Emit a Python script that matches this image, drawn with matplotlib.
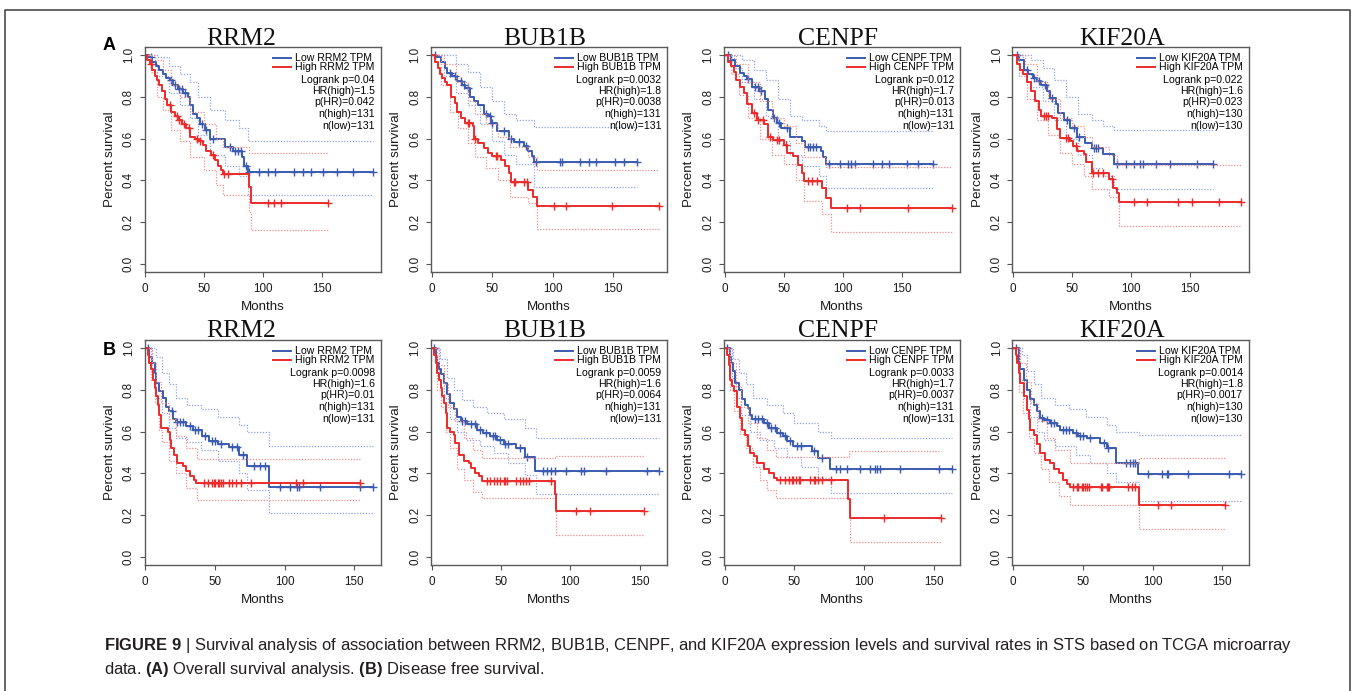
import numpy as np
import matplotlib
matplotlib.use("Agg")
from matplotlib import pyplot as plt
from matplotlib.lines import Line2D

plt.rcParams["font.family"] = ["Liberation Sans", "DejaVu Sans"]
plt.rcParams["mathtext.fontset"] = "custom"
plt.rcParams["mathtext.rm"] = "Liberation Sans"
plt.rcParams["mathtext.bf"] = "Liberation Sans:bold"

GENES = ["RRM2", "BUB1B", "CENPF", "KIF20A"]

# statistics printed in each panel
OS_LOGRANK = ["0.04", "0.0032", "0.012", "0.022"]
OS_HR = ["1.5", "1.8", "1.7", "1.6"]
OS_PHR = ["0.042", "0.0038", "0.013", "0.023"]
OS_N = [131, 131, 131, 130]
DFS_LOGRANK = ["0.0098", "0.0059", "0.0033", "0.0014"]
DFS_HR = ["1.6", "1.6", "1.7", "1.8"]
DFS_PHR = ["0.01", "0.0064", "0.0037", "0.0017"]
DFS_N = [131, 131, 131, 130]

# ---- (A) overall survival: (month, survival) step points, censor months ----
RRM2_OS_LOW = [(0, 1.0), (3, 0.99), (6, 0.97), (9, 0.95), (12, 0.93), (15, 0.91), (18, 0.89),
               (21, 0.88), (24, 0.86), (28, 0.84), (32, 0.82), (36, 0.80), (38, 0.76), (41, 0.72),
               (44, 0.70), (47, 0.67), (51, 0.64), (55, 0.60), (68, 0.56), (75, 0.54), (82, 0.51),
               (84, 0.47), (87, 0.44)]
RRM2_OS_LOW_UP = [(0, 1.0), (10, 0.99), (20, 0.95), (30, 0.91), (38, 0.87), (45, 0.80), (55, 0.74),
                  (68, 0.69), (80, 0.65), (87, 0.59)]
RRM2_OS_LOW_DN = [(0, 1.0), (5, 0.96), (10, 0.90), (20, 0.82), (30, 0.76), (38, 0.70), (45, 0.62),
                  (55, 0.52), (68, 0.47), (80, 0.42), (87, 0.33)]
RRM2_OS_LOW_CENS = [5, 22, 25, 29, 31, 34, 48, 52, 58, 72, 76, 79, 81, 86, 88, 97, 104, 110, 126,
                    134, 141, 151, 163, 176, 193]
RRM2_OS_HIGH = [(0, 1.0), (2, 0.98), (4, 0.96), (6, 0.93), (8, 0.90), (10, 0.88), (12, 0.86),
                (14, 0.83), (17, 0.79), (19, 0.76), (22, 0.73), (25, 0.71), (28, 0.69), (31, 0.67),
                (35, 0.65), (38, 0.61), (42, 0.60), (46, 0.59), (49, 0.57), (52, 0.54), (56, 0.52),
                (59, 0.50), (62, 0.47), (64, 0.45), (66, 0.43), (88, 0.37), (90, 0.29)]
RRM2_OS_HIGH_UP = [(0, 1.0), (8, 0.98), (15, 0.93), (22, 0.86), (30, 0.80), (38, 0.73), (50, 0.67),
                   (60, 0.60), (66, 0.56), (88, 0.53)]
RRM2_OS_HIGH_DN = [(0, 1.0), (5, 0.92), (10, 0.80), (15, 0.74), (22, 0.64), (30, 0.59), (38, 0.51),
                   (50, 0.45), (60, 0.38), (66, 0.33), (88, 0.25), (90, 0.16)]
RRM2_OS_HIGH_CENS = [5, 21, 27, 29, 33, 37, 44, 47, 58, 67, 70, 104, 109, 115, 155]

BUB1B_OS_LOW = [(0, 1.0), (4, 0.99), (8, 0.97), (11, 0.94), (13, 0.915), (17, 0.90), (21, 0.875),
                (25, 0.86), (28, 0.845), (32, 0.80), (35, 0.78), (38, 0.76), (43, 0.72), (47, 0.71),
                (49, 0.675), (54, 0.635), (64, 0.60), (68, 0.585), (76, 0.565), (80, 0.54),
                (83, 0.515), (85, 0.49)]
BUB1B_OS_LOW_UP = [(0, 1.0), (10, 1.0), (20, 0.96), (30, 0.92), (40, 0.85), (50, 0.78), (60, 0.72),
                   (70, 0.69), (85, 0.655)]
BUB1B_OS_LOW_DN = [(0, 1.0), (10, 0.90), (20, 0.82), (30, 0.76), (40, 0.67), (50, 0.59), (60, 0.52),
                   (70, 0.48), (85, 0.37)]
BUB1B_OS_LOW_CENS = [3, 15, 19, 24, 27, 30, 45, 48, 50, 60, 66, 72, 78, 86, 106, 108, 123, 130,
                     136, 152, 159, 170]
BUB1B_OS_HIGH = [(0, 1.0), (3, 0.97), (5, 0.94), (7, 0.91), (9, 0.89), (11, 0.87), (13, 0.86),
                 (16, 0.80), (19, 0.77), (21, 0.73), (24, 0.70), (28, 0.675), (34, 0.66), (35, 0.60),
                 (38, 0.58), (43, 0.555), (47, 0.53), (50, 0.515), (57, 0.50), (61, 0.47),
                 (64, 0.435), (66, 0.39), (80, 0.355), (84, 0.32), (87, 0.275)]
BUB1B_OS_HIGH_UP = [(0, 1.0), (10, 0.96), (20, 0.87), (30, 0.78), (36, 0.72), (45, 0.67),
                    (55, 0.61), (65, 0.56), (80, 0.51), (87, 0.45)]
BUB1B_OS_HIGH_DN = [(0, 1.0), (8, 0.86), (15, 0.73), (22, 0.65), (30, 0.58), (36, 0.51), (45, 0.46),
                    (55, 0.40), (65, 0.32), (80, 0.29), (87, 0.165)]
BUB1B_OS_HIGH_CENS = [30, 31, 36, 53, 54, 68, 69, 76, 79, 101, 111, 149, 188]

CENPF_OS_LOW = [(0, 1.0), (5, 0.98), (9, 0.95), (13, 0.915), (16, 0.90), (19, 0.885), (23, 0.85),
                (30, 0.83), (34, 0.79), (37, 0.74), (41, 0.70), (44, 0.675), (48, 0.65), (55, 0.61),
                (65, 0.59), (68, 0.56), (81, 0.54), (83, 0.51), (86, 0.48)]
CENPF_OS_LOW_UP = [(0, 1.0), (15, 0.98), (25, 0.93), (35, 0.88), (45, 0.79), (55, 0.71), (65, 0.69),
                   (80, 0.66), (86, 0.635)]
CENPF_OS_LOW_DN = [(0, 1.0), (8, 0.94), (15, 0.87), (25, 0.79), (35, 0.71), (45, 0.59), (55, 0.52),
                   (65, 0.47), (80, 0.42), (86, 0.365)]
CENPF_OS_LOW_CENS = [3, 5, 20, 26, 28, 31, 42, 46, 53, 70, 72, 75, 77, 88, 97, 104, 107, 110, 125,
                     133, 139, 154, 163, 176]
CENPF_OS_HIGH = [(0, 1.0), (3, 0.97), (5, 0.95), (8, 0.92), (10, 0.88), (13, 0.85), (16, 0.82),
                 (19, 0.765), (23, 0.725), (27, 0.69), (33, 0.67), (37, 0.61), (41, 0.595),
                 (50, 0.57), (53, 0.53), (58, 0.515), (62, 0.475), (65, 0.435), (67, 0.395),
                 (82, 0.365), (86, 0.315), (90, 0.265)]
CENPF_OS_HIGH_UP = [(0, 1.0), (10, 0.96), (20, 0.87), (30, 0.78), (40, 0.70), (50, 0.66), (60, 0.58),
                    (67, 0.51), (86, 0.465)]
CENPF_OS_HIGH_DN = [(0, 1.0), (5, 0.91), (12, 0.81), (20, 0.70), (30, 0.60), (40, 0.52), (50, 0.48),
                    (60, 0.40), (67, 0.30), (82, 0.24), (90, 0.15)]
CENPF_OS_HIGH_CENS = [25, 28, 32, 38, 44, 46, 52, 70, 74, 78, 103, 114, 155, 192]

KIF20A_OS_LOW = [(0, 1.0), (5, 0.98), (9, 0.93), (13, 0.91), (17, 0.89), (20, 0.875), (24, 0.86),
                 (29, 0.83), (31, 0.795), (36, 0.765), (38, 0.725), (43, 0.69), (48, 0.65),
                 (54, 0.61), (61, 0.58), (67, 0.555), (76, 0.525), (86, 0.48)]
KIF20A_OS_LOW_UP = [(0, 1.0), (15, 0.98), (25, 0.94), (35, 0.88), (45, 0.80), (55, 0.72),
                    (67, 0.69), (76, 0.66), (86, 0.64)]
KIF20A_OS_LOW_DN = [(0, 1.0), (8, 0.91), (15, 0.85), (25, 0.78), (35, 0.69), (45, 0.60), (55, 0.52),
                    (67, 0.46), (76, 0.42), (86, 0.36)]
KIF20A_OS_LOW_CENS = [3, 12, 18, 22, 27, 33, 46, 52, 56, 69, 70, 72, 88, 96, 103, 108, 110, 121,
                      133, 156, 170]
KIF20A_OS_HIGH = [(0, 1.0), (3, 0.96), (6, 0.93), (8, 0.91), (12, 0.87), (15, 0.83), (19, 0.78),
                  (22, 0.74), (24, 0.71), (33, 0.70), (37, 0.645), (40, 0.605), (48, 0.59),
                  (51, 0.565), (54, 0.54), (60, 0.525), (62, 0.49), (67, 0.435), (81, 0.405),
                  (85, 0.365), (88, 0.34), (90, 0.295)]
KIF20A_OS_HIGH_UP = [(0, 1.0), (10, 0.96), (20, 0.87), (30, 0.79), (40, 0.70), (50, 0.66),
                     (60, 0.61), (67, 0.56), (81, 0.52), (88, 0.475)]
KIF20A_OS_HIGH_DN = [(0, 1.0), (5, 0.90), (12, 0.79), (20, 0.69), (30, 0.62), (40, 0.53), (50, 0.48),
                     (60, 0.42), (67, 0.36), (81, 0.32), (90, 0.18)]
KIF20A_OS_HIGH_CENS = [26, 28, 30, 45, 47, 53, 68, 72, 76, 84, 103, 114, 140, 152, 175, 193]

# ---- (B) disease free survival ----
RRM2_DFS_LOW = [(0, 1.0), (3, 0.96), (5, 0.93), (7, 0.88), (8, 0.835), (10, 0.795), (13, 0.76),
                (15, 0.72), (17, 0.70), (20, 0.66), (22, 0.645), (29, 0.625), (34, 0.61), (41, 0.58),
                (46, 0.555), (52, 0.54), (60, 0.525), (67, 0.49), (73, 0.435), (89, 0.335)]
RRM2_DFS_LOW_UP = [(0, 1.0), (8, 0.96), (12, 0.88), (17, 0.83), (22, 0.76), (30, 0.73), (40, 0.71),
                   (52, 0.67), (67, 0.63), (73, 0.60), (89, 0.53)]
RRM2_DFS_LOW_DN = [(0, 1.0), (5, 0.88), (8, 0.76), (12, 0.69), (17, 0.62), (22, 0.57), (30, 0.55),
                   (40, 0.51), (52, 0.46), (67, 0.40), (73, 0.32), (89, 0.21)]
RRM2_DFS_LOW_CENS = [2, 19, 23, 25, 27, 32, 36, 38, 43, 48, 50, 54, 62, 66, 70, 78, 82, 86, 97,
                     104, 109, 110, 125, 154, 163]
RRM2_DFS_HIGH = [(0, 1.0), (2, 0.97), (3, 0.93), (4, 0.90), (5.5, 0.85), (7, 0.81), (8, 0.77),
                 (9, 0.73), (10, 0.68), (11.5, 0.62), (16, 0.60), (17.5, 0.56), (18.5, 0.52),
                 (21, 0.49), (23, 0.45), (27, 0.435), (29, 0.41), (32, 0.385), (35, 0.37),
                 (36.5, 0.355)]
RRM2_DFS_HIGH_UP = [(0, 1.0), (5, 0.93), (8, 0.84), (11, 0.74), (17, 0.66), (22, 0.58), (29, 0.52),
                    (37, 0.47)]
RRM2_DFS_HIGH_DN = [(0, 1.0), (4, 0.85), (7, 0.74), (10, 0.61), (12, 0.55), (17, 0.46), (22, 0.40),
                    (29, 0.33), (37, 0.27)]
RRM2_DFS_HIGH_CENS = [42, 45, 48, 49, 50, 52, 53, 54, 56, 60, 62, 65, 69, 76, 108, 113, 154]

BUB1B_DFS_LOW = [(0, 1.0), (3, 0.96), (4, 0.93), (5, 0.90), (6.5, 0.875), (9, 0.835), (11, 0.78),
                 (13.5, 0.74), (16, 0.71), (18, 0.67), (21, 0.65), (25.5, 0.635), (33, 0.61),
                 (37, 0.595), (42, 0.58), (47, 0.56), (52, 0.54), (61, 0.52), (67, 0.48),
                 (74.5, 0.41)]
BUB1B_DFS_LOW_UP = [(0, 1.0), (6, 0.95), (11, 0.86), (16, 0.80), (22, 0.75), (30, 0.72), (40, 0.69),
                    (52, 0.66), (67, 0.62), (75, 0.57)]
BUB1B_DFS_LOW_DN = [(0, 1.0), (5, 0.85), (9, 0.76), (13, 0.66), (18, 0.60), (25, 0.56), (35, 0.53),
                    (45, 0.50), (55, 0.45), (67, 0.39), (75, 0.30)]
BUB1B_DFS_LOW_CENS = [2, 22, 24, 28, 31, 35, 39, 44, 46, 49, 53, 55, 64, 69, 80, 83, 86, 89, 97,
                      108, 110, 126, 155, 164]
BUB1B_DFS_HIGH = [(0, 1.0), (1.7, 0.97), (3, 0.93), (4, 0.88), (5, 0.85), (6.5, 0.81), (7.6, 0.77),
                  (9, 0.74), (10, 0.69), (11, 0.62), (13.5, 0.60), (16, 0.585), (17, 0.545),
                  (19.5, 0.49), (23, 0.46), (27, 0.45), (28, 0.425), (31.5, 0.40), (34, 0.385),
                  (36, 0.365), (89, 0.30), (90, 0.22)]
BUB1B_DFS_HIGH_UP = [(0, 1.0), (5, 0.92), (9, 0.83), (12, 0.72), (17, 0.65), (23, 0.57), (30, 0.51),
                     (36, 0.475), (89, 0.485)]
BUB1B_DFS_HIGH_DN = [(0, 1.0), (4, 0.80), (7, 0.72), (10, 0.60), (13, 0.52), (18, 0.42), (23, 0.37),
                     (30, 0.31), (36, 0.28), (90, 0.105)]
BUB1B_DFS_HIGH_CENS = [40, 42, 45, 47, 49, 52, 53, 54, 61, 64, 66, 68, 70, 86, 104, 114, 153]

CENPF_DFS_LOW = [(0, 1.0), (3.6, 0.96), (4.5, 0.93), (6, 0.89), (7.6, 0.835), (10, 0.80),
                 (12.4, 0.755), (14.8, 0.73), (17, 0.715), (18, 0.68), (19.5, 0.66), (28, 0.64),
                 (31.5, 0.62), (37.4, 0.595), (42, 0.58), (44.6, 0.555), (49, 0.53), (62.5, 0.505),
                 (67, 0.475), (75.6, 0.42)]
CENPF_DFS_LOW_UP = [(0, 1.0), (6, 0.95), (10, 0.88), (15, 0.83), (20, 0.76), (30, 0.73), (42, 0.69),
                    (50, 0.64), (67, 0.60), (76, 0.57)]
CENPF_DFS_LOW_DN = [(0, 1.0), (5, 0.86), (8, 0.76), (12, 0.68), (18, 0.60), (25, 0.56), (35, 0.52),
                    (45, 0.48), (55, 0.43), (67, 0.38), (76, 0.305)]
CENPF_DFS_LOW_CENS = [2, 22, 24, 27, 30, 33, 36, 40, 43, 47, 52, 55, 64, 70, 80, 83, 87.5, 97, 104,
                      108, 109, 111, 126, 153.6, 163]
CENPF_DFS_HIGH = [(0, 1.0), (1.7, 0.97), (3, 0.92), (4, 0.85), (5.2, 0.82), (6.4, 0.795),
                  (8.8, 0.72), (11, 0.665), (12.4, 0.61), (14.8, 0.585), (17, 0.53), (18, 0.50),
                  (20.7, 0.485), (23, 0.45), (28, 0.42), (31.5, 0.40), (35, 0.38), (37.4, 0.37),
                  (88.7, 0.275), (90, 0.185)]
CENPF_DFS_HIGH_UP = [(0, 1.0), (4, 0.93), (8, 0.82), (12, 0.72), (17, 0.64), (23, 0.57), (30, 0.51),
                     (37, 0.48), (89, 0.505)]
CENPF_DFS_HIGH_DN = [(0, 1.0), (4, 0.80), (7, 0.70), (11, 0.59), (15, 0.52), (20, 0.43), (25, 0.37),
                     (30, 0.32), (37, 0.28), (90, 0.07)]
CENPF_DFS_HIGH_CENS = [40, 43, 46, 48, 49, 51, 53, 54, 61, 64, 65, 67, 70, 76, 114, 155]

KIF20A_DFS_LOW = [(0, 1.0), (4, 0.93), (5.2, 0.90), (7.6, 0.85), (10, 0.80), (12.3, 0.755),
                  (14.7, 0.73), (17, 0.70), (19.5, 0.665), (22, 0.655), (26.6, 0.64), (31.3, 0.625),
                  (33.7, 0.61), (43, 0.595), (46.8, 0.58), (52.7, 0.57), (62, 0.545), (67, 0.52),
                  (74, 0.45), (89.5, 0.395)]
KIF20A_DFS_LOW_UP = [(0, 1.0), (6, 0.97), (10, 0.89), (15, 0.83), (20, 0.76), (30, 0.73), (40, 0.71),
                     (52, 0.67), (67, 0.63), (74, 0.60), (90, 0.585)]
KIF20A_DFS_LOW_DN = [(0, 1.0), (5, 0.85), (8, 0.76), (12, 0.67), (17, 0.60), (22, 0.56), (30, 0.53),
                     (45, 0.49), (55, 0.45), (67, 0.40), (74, 0.36), (90, 0.265)]
KIF20A_DFS_LOW_CENS = [2, 21, 24, 27, 29, 36, 38, 40, 45, 48, 50, 55, 65, 68, 81, 83.5, 86, 87,
                       96.6, 107, 110, 111, 125, 155, 163]
KIF20A_DFS_HIGH = [(0, 1.0), (1.7, 0.97), (2.8, 0.93), (4, 0.88), (5.2, 0.835), (7.6, 0.77),
                   (10, 0.705), (11, 0.66), (12.3, 0.61), (14.7, 0.585), (17, 0.54), (19.5, 0.50),
                   (23, 0.465), (26.6, 0.45), (29, 0.42), (32.5, 0.40), (36, 0.37), (38.5, 0.35),
                   (41, 0.335), (90, 0.25)]
KIF20A_DFS_HIGH_UP = [(0, 1.0), (5, 0.93), (9, 0.84), (13, 0.74), (18, 0.65), (24, 0.57), (30, 0.51),
                      (41, 0.45), (90, 0.475)]
KIF20A_DFS_HIGH_DN = [(0, 1.0), (4, 0.79), (7, 0.69), (11, 0.57), (15, 0.50), (20, 0.42), (26, 0.36),
                      (33, 0.29), (41, 0.25), (90, 0.133)]
KIF20A_DFS_HIGH_CENS = [43, 45.6, 46.8, 49, 50, 51.5, 52.7, 54, 63, 64, 67, 68, 69, 82, 85, 87,
                        103.7, 113, 152]

OS_CURVES = [
    (RRM2_OS_LOW, RRM2_OS_LOW_UP, RRM2_OS_LOW_DN, RRM2_OS_LOW_CENS,
     RRM2_OS_HIGH, RRM2_OS_HIGH_UP, RRM2_OS_HIGH_DN, RRM2_OS_HIGH_CENS),
    (BUB1B_OS_LOW, BUB1B_OS_LOW_UP, BUB1B_OS_LOW_DN, BUB1B_OS_LOW_CENS,
     BUB1B_OS_HIGH, BUB1B_OS_HIGH_UP, BUB1B_OS_HIGH_DN, BUB1B_OS_HIGH_CENS),
    (CENPF_OS_LOW, CENPF_OS_LOW_UP, CENPF_OS_LOW_DN, CENPF_OS_LOW_CENS,
     CENPF_OS_HIGH, CENPF_OS_HIGH_UP, CENPF_OS_HIGH_DN, CENPF_OS_HIGH_CENS),
    (KIF20A_OS_LOW, KIF20A_OS_LOW_UP, KIF20A_OS_LOW_DN, KIF20A_OS_LOW_CENS,
     KIF20A_OS_HIGH, KIF20A_OS_HIGH_UP, KIF20A_OS_HIGH_DN, KIF20A_OS_HIGH_CENS),
]
DFS_CURVES = [
    (RRM2_DFS_LOW, RRM2_DFS_LOW_UP, RRM2_DFS_LOW_DN, RRM2_DFS_LOW_CENS,
     RRM2_DFS_HIGH, RRM2_DFS_HIGH_UP, RRM2_DFS_HIGH_DN, RRM2_DFS_HIGH_CENS),
    (BUB1B_DFS_LOW, BUB1B_DFS_LOW_UP, BUB1B_DFS_LOW_DN, BUB1B_DFS_LOW_CENS,
     BUB1B_DFS_HIGH, BUB1B_DFS_HIGH_UP, BUB1B_DFS_HIGH_DN, BUB1B_DFS_HIGH_CENS),
    (CENPF_DFS_LOW, CENPF_DFS_LOW_UP, CENPF_DFS_LOW_DN, CENPF_DFS_LOW_CENS,
     CENPF_DFS_HIGH, CENPF_DFS_HIGH_UP, CENPF_DFS_HIGH_DN, CENPF_DFS_HIGH_CENS),
    (KIF20A_DFS_LOW, KIF20A_DFS_LOW_UP, KIF20A_DFS_LOW_DN, KIF20A_DFS_LOW_CENS,
     KIF20A_DFS_HIGH, KIF20A_DFS_HIGH_UP, KIF20A_DFS_HIGH_DN, KIF20A_DFS_HIGH_CENS),
]

BLUE = "#3a5bb0"
RED = "#ec2b2b"
BLUE_CI = "#8ea2e6"
RED_CI = "#f28a8a"

W, H = 1354, 691
fig = plt.figure(figsize=(W / 100, H / 100), dpi=100)
fig.patch.set_facecolor("white")

AX_LEFT = [144.5, 431, 724, 1012.5]
AX_TOP = [47, 340]
AX_W, AX_H = 236, 225
TITLE_X = [241.5, 545, 838, 1122.5]
TITLE_Y = [45, 337]
STAT_Y = [0.952, 0.910, 0.852, 0.804, 0.754, 0.702, 0.648]


def fx(x):
    return x / W


def fy(y):
    return 1 - y / H


def step_arrays(points, end):
    t = [p[0] for p in points] + [end]
    s = [p[1] for p in points] + [points[-1][1]]
    return np.array(t), np.array(s)


renderer = fig.canvas.get_renderer()


def draw_group(ax, km, up, dn, cens, color, ci_color):
    end = max(cens)
    for band in (up, dn):
        t, s = step_arrays(band, end)
        ax.step(t, s, where="post", color=ci_color, lw=0.9, ls=(0, (1, 1.3)))
    t, s = step_arrays(km, end)
    ax.step(t, s, where="post", color=color, lw=1.4)
    idx = np.searchsorted(t, cens, side="right") - 1
    ax.plot(cens, s[idx], ls="none", marker="+", ms=6, mew=1.0, color=color)
    return end


def draw_panel(row, col, curves, logrank, hr, phr, n):
    gene = GENES[col]
    ax = fig.add_axes([fx(AX_LEFT[col]), fy(AX_TOP[row] + AX_H), AX_W / W, AX_H / H])
    low_km, low_up, low_dn, low_c, hi_km, hi_up, hi_dn, hi_c = curves
    e1 = draw_group(ax, low_km, low_up, low_dn, low_c, BLUE, BLUE_CI)
    e2 = draw_group(ax, hi_km, hi_up, hi_dn, hi_c, RED, RED_CI)
    ax.set_xlim(-0.5, max(e1, e2) * 1.035)
    ax.set_ylim(-0.04, 1.04)
    ax.set_xticks([0, 50, 100, 150])
    ax.set_yticks([0, 0.2, 0.4, 0.6, 0.8, 1.0])
    ax.set_yticklabels(["0.0", "0.2", "0.4", "0.6", "0.8", "1.0"])
    ax.tick_params(direction="out", length=3.5, width=0.8, color="#555555",
                   labelsize=8.4, labelcolor="#1a1a1a")
    ax.tick_params(axis="x", pad=4.5)
    ax.tick_params(axis="y", pad=3.5)
    for lbl in ax.get_yticklabels():
        lbl.set_rotation(90)
        lbl.set_va("center")
    for sp in ax.spines.values():
        sp.set_color("#5a5a5a")
        sp.set_linewidth(1.0)
    ax.set_xlabel("Months", fontsize=9.6, color="#1a1a1a")
    ax.set_ylabel("Percent survival", fontsize=9.6, color="#1a1a1a")
    ax.xaxis.set_label_coords(0.5, -0.128)
    ax.yaxis.set_label_coords(-0.122, 0.5)

    # legend + stats block, top right
    xr = 0.976
    stats = [f"Logrank p={logrank}", f"HR(high)={hr}", f"p(HR)={phr}",
             f"n(high)={n}", f"n(low)={n}"]
    hi_txt = ax.text(xr, STAT_Y[1], f"High {gene} TPM", transform=ax.transAxes,
                     ha="right", va="center", fontsize=7.6)
    bb = hi_txt.get_window_extent(renderer)
    x_left = ax.transAxes.inverted().transform((bb.x0, bb.y0))[0]
    ax.text(x_left, STAT_Y[0], f"Low {gene} TPM", transform=ax.transAxes,
            ha="left", va="center", fontsize=7.6)
    seg_r = x_left - 4 / AX_W
    seg_l = seg_r - 18 / AX_W
    for yy, c in ((STAT_Y[0], BLUE), (STAT_Y[1], RED)):
        ax.add_line(Line2D([seg_l, seg_r], [yy, yy], transform=ax.transAxes,
                           color=c, lw=1.4))
    for yy, s in zip(STAT_Y[2:], stats):
        ax.text(xr, yy, s, transform=ax.transAxes, ha="right", va="center", fontsize=7.6)

    fig.text(fx(TITLE_X[col]), fy(TITLE_Y[row]), gene, ha="center", va="baseline",
             fontsize=18.5, family="Liberation Serif", color="#111111")


for c in range(4):
    draw_panel(0, c, OS_CURVES[c], OS_LOGRANK[c], OS_HR[c], OS_PHR[c], OS_N[c])
    draw_panel(1, c, DFS_CURVES[c], DFS_LOGRANK[c], DFS_HR[c], DFS_PHR[c], DFS_N[c])

fig.text(fx(103), fy(50), "A", fontsize=13, fontweight="bold", va="baseline", ha="left")
fig.text(fx(103), fy(355), "B", fontsize=13, fontweight="bold", va="baseline", ha="left")

# outer frame (open at the bottom of the crop)
fig.add_artist(Line2D([fx(5), fx(5), fx(1349.5), fx(1349.5)], [fy(H + 5), fy(9.5), fy(9.5), fy(H + 5)],
                      transform=fig.transFigure, color="#3c3c3c", lw=1.1))

CAPTION_1 = (r"$\bf{FIGURE\ 9}$ | Survival analysis of association between RRM2, BUB1B, CENPF, "
             r"and KIF20A expression levels and survival rates in STS based on TCGA microarray")
CAPTION_2 = r"data. $\bf{(A)}$ Overall survival analysis. $\bf{(B)}$ Disease free survival."
fig.text(fx(104), fy(650), CAPTION_1, fontsize=11.9, va="baseline", ha="left", color="#231f20")
fig.text(fx(104), fy(674), CAPTION_2, fontsize=11.9, va="baseline", ha="left", color="#231f20")

fig.savefig("out.png", dpi=100)
